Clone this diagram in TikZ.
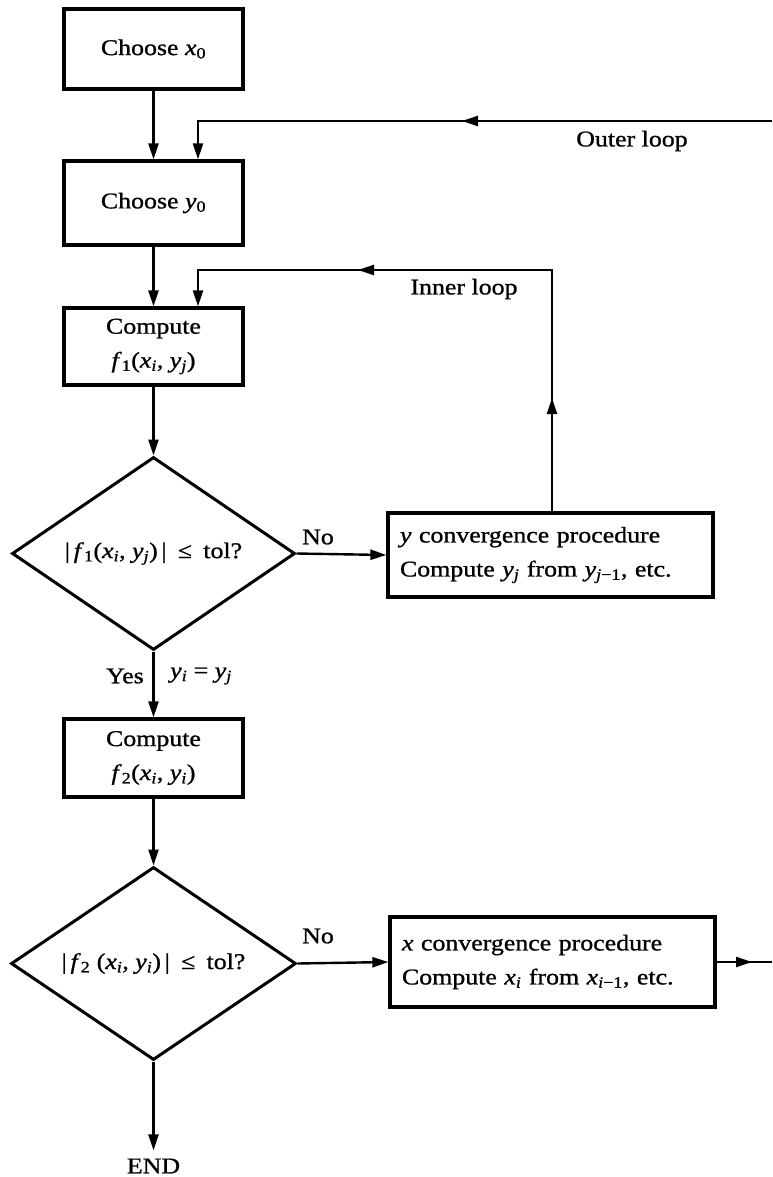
\documentclass[tikz,border=0pt]{standalone}
\usepackage{fontspec}
\setmainfont[FakeStretch=1.15,FakeBold=1]{Liberation Serif}
\usetikzlibrary{arrows.meta,shapes.geometric}
\newcommand\vv[2]{\textit{#1}\textsubscript{#2}}
\newcommand\fs{\fontsize{22.5}{34}\selectfont}
\begin{document}
\begin{tikzpicture}[x=1pt,y=-1pt,
  box/.style={draw, line width=3.2pt, minimum width=179pt, inner sep=0pt, align=center, font=\fs},
  wbox/.style={box, minimum width=325pt, text width=301pt, inner xsep=12pt, align=left},
  dia/.style={draw, diamond, aspect=1.47, line width=3pt, inner sep=0pt, font=\fs},
  lbl/.style={font=\fs, inner sep=1pt},
  ln/.style={line width=2.4pt},
  arr/.style={line width=2.4pt, -{Triangle[length=16pt,width=10pt]}}]
\useasboundingbox (0,0) rectangle (772,1177);

% nodes
\node[box, minimum height=80pt] (c1) at (153.5,49) {Choose \vv{x}{0}};
\node[box, minimum height=84pt] (c2) at (153.5,203) {Choose \vv{y}{0}};
\node[box, minimum height=77pt] (f1) at (153.5,346.5) {Compute\\\vv{f}{1}(\vv{x}{\textit{i}}, \vv{y}{\textit{j}})};
\node[dia, minimum width=283pt, minimum height=193pt] (d1) at (153.5,553.5) {|\,\vv{f}{1}(\vv{x}{\textit{i}}, \vv{y}{\textit{j}})\,|\enspace≤\enspace tol?};
\node[wbox, minimum height=84pt] (yb) at (550.5,555) {\textit{y} convergence procedure\\Compute \vv{y}{\textit{j}} from \vv{y}{\textit{j}−1}, etc.};
\node[box, minimum height=78pt] (f2) at (153.5,758) {Compute\\\vv{f}{2}(\vv{x}{\textit{i}}, \vv{y}{\textit{i}})};
\node[dia, minimum width=285pt, minimum height=193pt] (d2) at (153.5,963.5) {|\,\vv{f}{2} (\vv{x}{\textit{i}}, \vv{y}{\textit{i}})\,|\enspace≤\enspace tol?};
\node[wbox, minimum height=90pt] (xb) at (552.5,962) {\textit{x} convergence procedure\\Compute \vv{x}{\textit{i}} from \vv{x}{\textit{i}−1}, etc.};
\node[lbl] (end) at (153.5,1166) {END};

% labels
\node[lbl] (outer) at (632,141) {Outer loop};
\node[lbl] (inner) at (464,289) {Inner loop};
\node[lbl] (no1) at (318,537) {No};
\node[lbl] (no2) at (318,936) {No};
\node[lbl] (yes) at (125,676) {Yes};
\node[lbl] (yeq) at (201,676) {\vv{y}{\textit{i}} = \vv{y}{\textit{j}}};

% coordinates
\coordinate (oR) at (772,121);
\coordinate (oA) at (462,121);
\coordinate (oL) at (198,121);
\coordinate (iA) at (552,398);
\coordinate (iT) at (552,270);
\coordinate (iA2) at (358,270);
\coordinate (iL) at (198,270);
\coordinate (xR) at (772,962);
\coordinate (xA) at (752,962);

% main flow
\draw[arr] (c1.south) -- (c2.north);
\draw[arr] (c2.south) -- (f1.north);
\draw[arr] (f1.south) -- (d1.north);
\draw[arr] (d1.south) -- (f2.north);
\draw[arr] (f2.south) -- (d2.north);
\draw[arr, shorten >=7pt] (d2.south) -- (end.north);
\draw[arr] (d1.east) -- (yb.west);
\draw[arr] (d2.east) -- (xb.west);

% outer loop
\draw[arr] (oR) -- (oL) -- (oL |- c2.north);
\draw[arr] (oA) ++(20,0) -- (oA);

% inner loop
\draw[arr] (yb.north -| iA) -- (iT) -- (iL) -- (iL |- f1.north);
\draw[arr] (iA) ++(0,20) -- (iA);
\draw[arr] (iA2) ++(20,0) -- (iA2);

% x procedure exit
\draw[ln] (xb.east) -- (xR);
\draw[arr] (xA) ++(-20,0) -- (xA);
\end{tikzpicture}
\end{document}
